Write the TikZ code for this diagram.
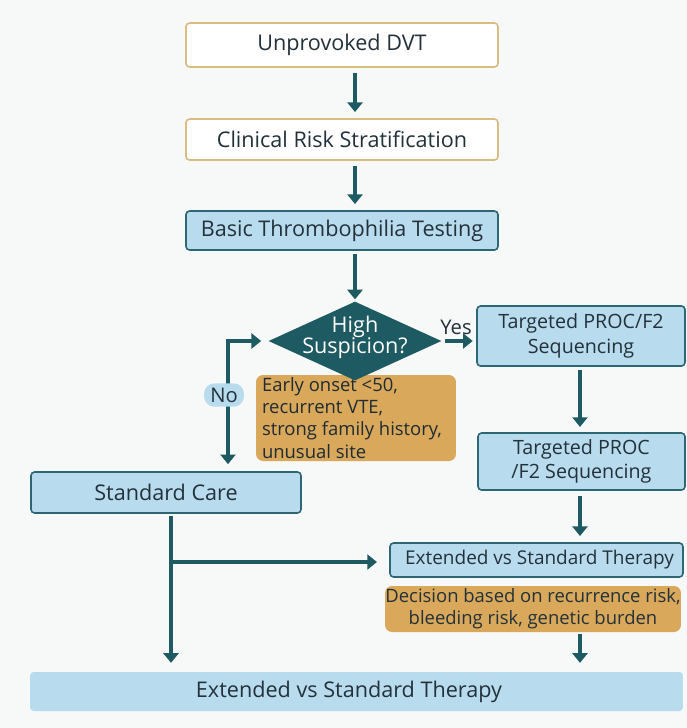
\documentclass[tikz,border=0pt]{standalone}
\usepackage{fontspec}
\setmainfont{Open Sans}
\usepackage{xcolor}
\usepackage{tikz}
\usetikzlibrary{arrows.meta,positioning,shapes.geometric}

\definecolor{pagebg}{HTML}{F7F8F8}
\definecolor{goldline}{HTML}{D9BC82}
\definecolor{paleblue}{HTML}{B8DCEE}
\definecolor{tealline}{HTML}{2C6773}
\definecolor{darkteal}{HTML}{1D5A62}
\definecolor{ochre}{HTML}{D9A85A}
\definecolor{inktext}{HTML}{22313A}

\begin{document}
\begin{tikzpicture}[
  x=0.02cm, y=-0.02cm,
  font=\fontsize{12.3}{14.5}\selectfont, text=inktext,
  startbox/.style={draw=goldline,line width=0.9pt,fill=white,rounded corners=2pt,
                   minimum width=6.24cm,align=center},
  bluebox/.style={draw=tealline,line width=0.9pt,fill=paleblue,rounded corners=2pt,
                  align=center},
  notebox/.style={fill=ochre,rounded corners=4pt,inner sep=0pt},
  notefont/.style={font=\fontsize{10.5}{12.6}\selectfont},
  decision/.style={diamond,fill=darkteal,inner sep=0pt,
                   minimum width=3.46cm,minimum height=1.58cm},
  pill/.style={fill=paleblue,rounded corners=6pt,inner sep=2.5pt,minimum width=0.8cm},
  arrow/.style={-{Triangle[width=8.5pt,length=5.5pt]},line width=1.8pt,draw=darkteal}
]
\fill[pagebg] (0,0) rectangle (687,728);
\useasboundingbox (0,0) rectangle (687,728);

% top of the chart
\node[startbox,minimum height=0.88cm] (dvt) at (342,45) {Unprovoked DVT};
\node[startbox,minimum height=0.82cm] (risk) at (342,139.5) {Clinical Risk Stratification};
\node[bluebox,minimum width=6.24cm,minimum height=0.78cm] (basic) at (342,230.5)
  {Basic Thrombophilia Testing};

% decision and its note
\node[notebox,minimum width=4.0cm,minimum height=1.72cm] (crit) at (356,418) {};
\node[notefont,align=left,anchor=west,inner sep=0pt,text=inktext!90!black]
  (crittext) at ([xshift=0.12cm]crit.west)
  {Early onset <50,\\recurrent VTE,\\strong family history,\\unusual site};
\node[decision] (susp) at (355,341) {};
\node[align=center,text=white,font=\fontsize{12.3}{12}\selectfont] (susptext)
  at ([yshift=0.07cm]susp.center) {High\\Suspicion?};

% yes branch
\node[bluebox,minimum width=4.16cm,minimum height=1.2cm,font=\fontsize{11.2}{14}\selectfont]
  (seq1) at (581,336) {Targeted PROC/F2\\Sequencing};
\node[bluebox,minimum width=4.14cm,minimum height=1.14cm,font=\fontsize{11.2}{14}\selectfont]
  (seq2) at (581.5,461.5) {Targeted PROC\\/F2 Sequencing};
\node[bluebox,minimum width=5.86cm,minimum height=0.68cm,font=\fontsize{10.8}{13}\selectfont]
  (extA) at (536.5,560) {\hspace{0.12cm}Extended vs Standard Therapy};
\node[notebox,notefont,minimum width=5.92cm,minimum height=0.92cm,align=center] (why)
  at (533,609) {Decision based on recurrence risk,\\bleeding risk, genetic burden};

% no branch
\node[bluebox,minimum width=5.4cm,minimum height=0.82cm] (std) at (166,492.5) {Standard Care};
\node[fill=paleblue,minimum width=13.06cm,minimum height=0.78cm,rounded corners=2pt]
  (final) at (356.5,691.5) {\hspace{-0.3cm}Extended vs Standard Therapy};

\coordinate (nojoin) at (228,341);
\coordinate (fork) at (171,562);
\coordinate (mid) at (580,0);

% connectors
\draw[arrow,shorten <=3pt,shorten >=3.5pt] (dvt.south -| susp) -- (risk.north -| susp);
\draw[arrow,shorten <=3pt,shorten >=3.5pt] (risk.south -| susp) -- (basic.north -| susp);
\draw[arrow,shorten <=2pt,shorten >=1pt] (basic.south -| susp) -- (susp.north);
\draw[arrow,shorten <=2pt,shorten >=2pt] (susp.east) -- (seq1.west |- susp);
\node[font=\fontsize{11.5}{13}\selectfont] (yes) at (456,327) {Yes};
\draw[arrow,shorten <=2pt,shorten >=3pt] (seq1.south -| mid) -- (seq2.north -| mid);
\draw[arrow,line cap=rect,shorten >=4pt] (nojoin) -- (susp.west);
\draw[arrow,line cap=rect,shorten >=4pt] (nojoin) -- (std.north -| nojoin);
\node[pill,font=\fontsize{11.5}{13}\selectfont] (no) at (224,395) {No};
\draw[arrow,shorten <=1pt,shorten >=5pt] (std.south -| fork) -- (final.north -| fork);
\draw[arrow,shorten >=7pt] (fork) -- (extA.west |- fork);
\draw[arrow,shorten <=3pt,shorten >=3.5pt] (seq2.south -| mid) -- (extA.north -| mid);
\draw[arrow,shorten <=1pt,shorten >=5pt] (why.south -| mid) -- (final.north -| mid);
\end{tikzpicture}
\end{document}
